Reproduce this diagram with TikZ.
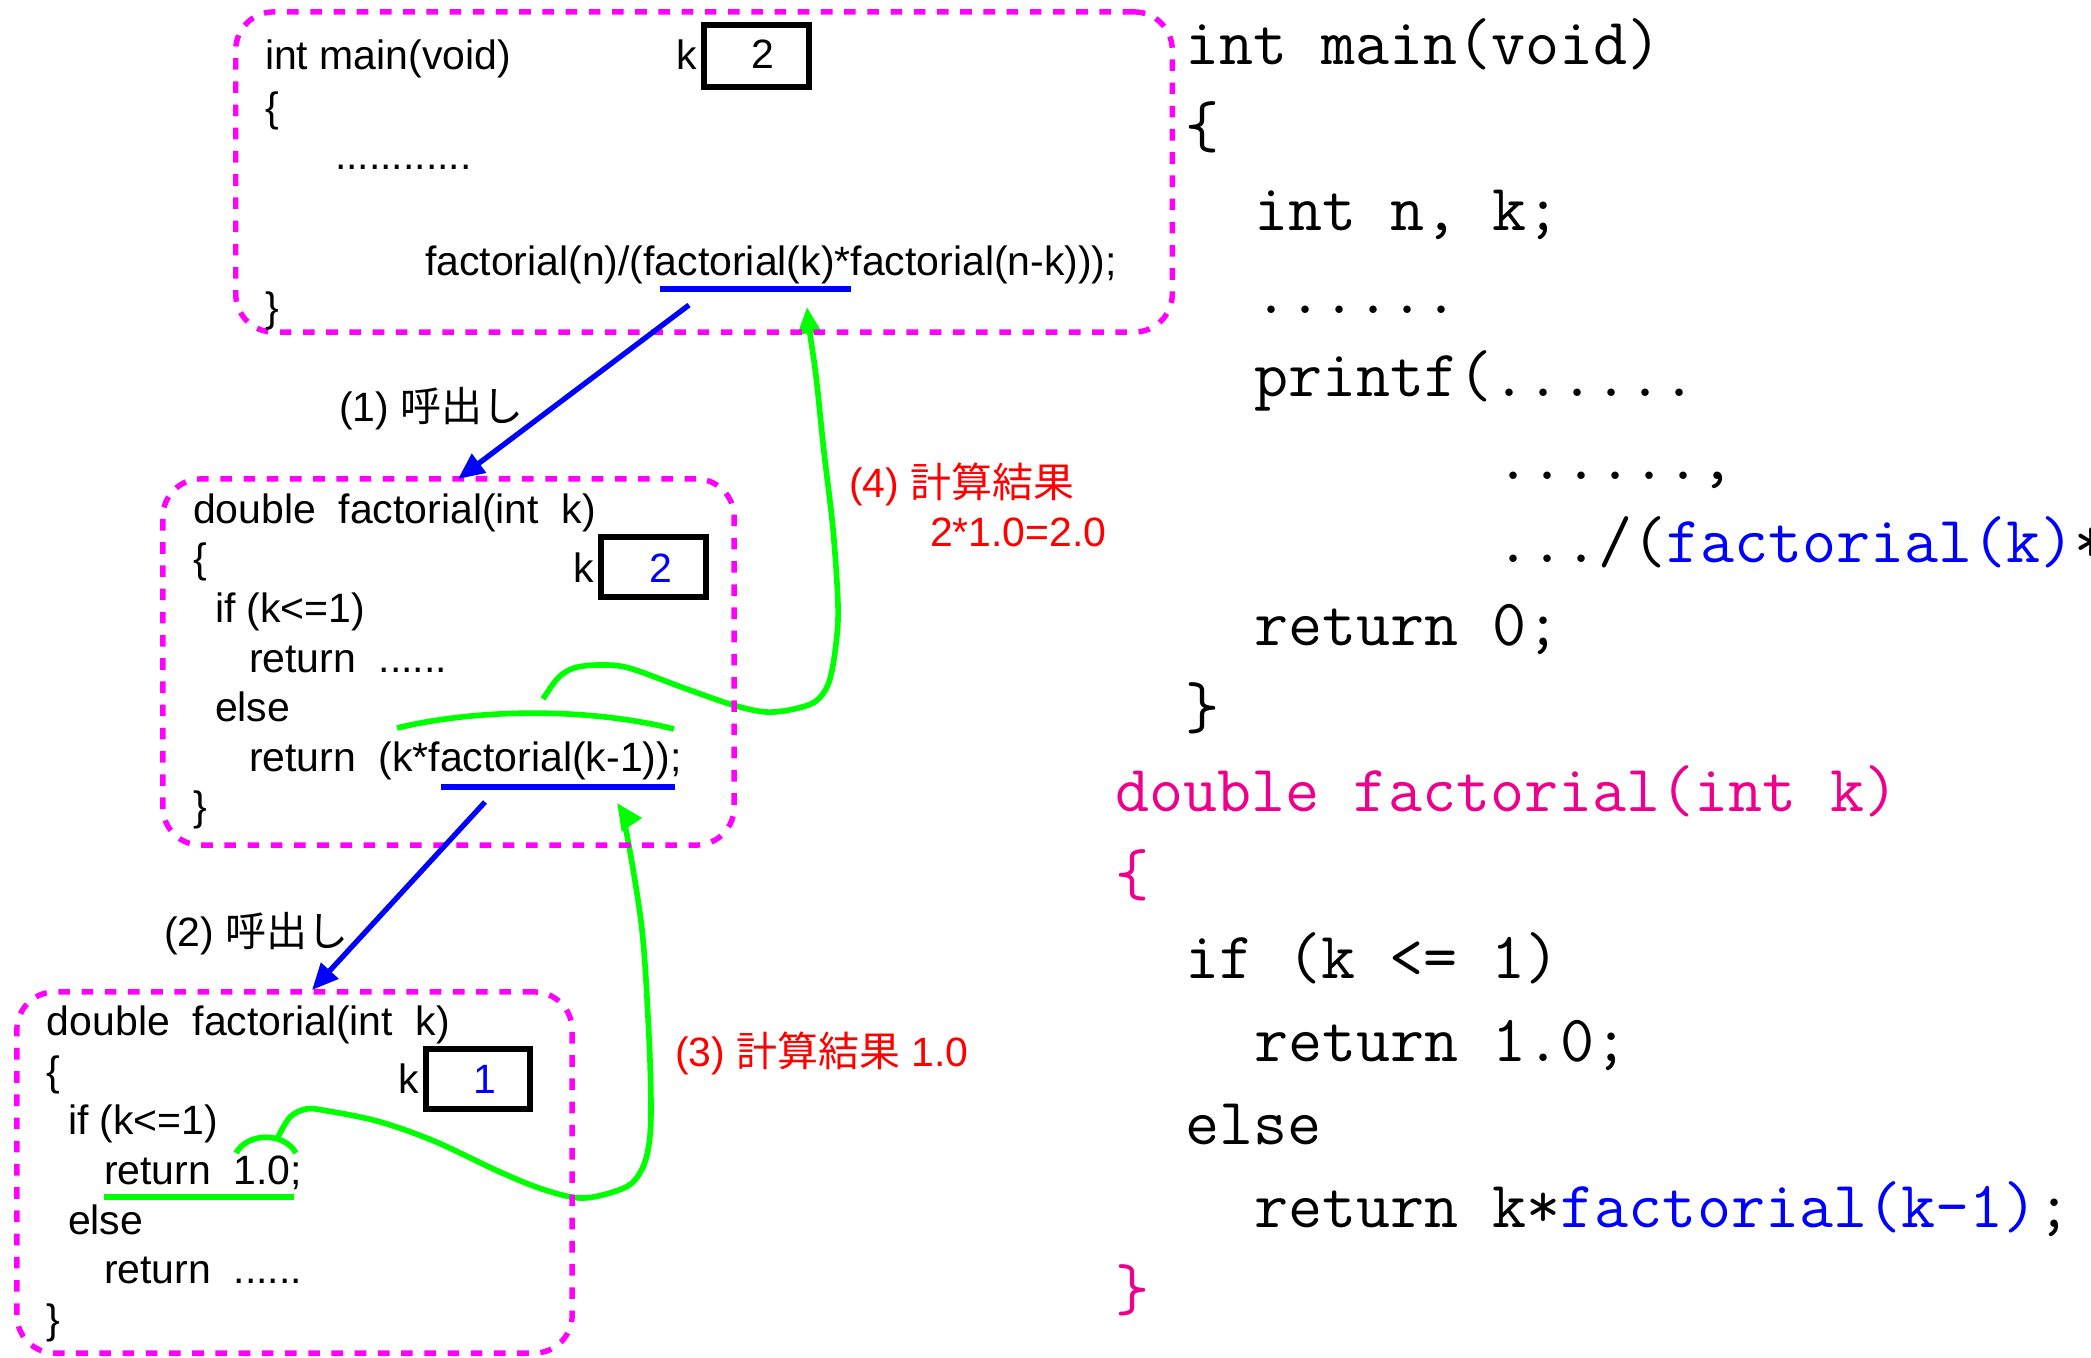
\documentclass[tikz,border=0pt]{standalone}
\usepackage{fontspec}
\setmainfont{Liberation Sans}
\setmonofont{Latin Modern Mono}
\newfontfamily\jpfont{Noto Sans CJK JP}
\usetikzlibrary{arrows.meta}

\definecolor{framepink}{RGB}{255,0,255}
\definecolor{codepink}{RGB}{236,0,140}
\definecolor{callblue}{RGB}{0,0,255}
\definecolor{retgreen}{RGB}{0,255,0}
\definecolor{labelred}{RGB}{255,0,0}

\newcommand{\jp}[1]{{\jpfont #1}}

\begin{document}
\begin{tikzpicture}[x=0.01cm, y=-0.01cm,
  callframe/.style={draw=framepink, line width=1.55pt, dash pattern=on 3.3pt off 3.3pt,
    rounded corners=0.38cm, inner sep=0pt, outer sep=0pt},
  src/.style={inner sep=0pt, outer sep=0pt, anchor=base west,
    font=\fontsize{11.65}{14}\selectfont},
  val/.style={inner sep=0pt, outer sep=0pt, anchor=base,
    font=\fontsize{11.65}{14}\selectfont},
  code/.style={inner sep=0pt, outer sep=0pt, anchor=base west,
    font=\fontsize{18.8}{22}\selectfont\ttfamily},
  varbox/.style={draw=black, line width=1.5pt},
  ulblue/.style={draw=callblue, line width=1.6pt},
  ulgreen/.style={draw=retgreen, line width=1.6pt},
  callarrow/.style={draw=callblue, line width=1.5pt,
    -{Triangle[length=7.5pt,width=6.5pt]}},
  retcurve/.style={draw=retgreen, line width=1.6pt},
  retarrow/.style={draw=retgreen, line width=1.6pt,
    -{Triangle[length=7.5pt,width=6.5pt]}},
  note/.style={inner sep=0pt, outer sep=0pt, anchor=base west,
    font=\fontsize{11.65}{14}\selectfont},
]
\path[use as bounding box, clip] (0,0) rectangle (2091,1357);
\fill[white] (0,0) rectangle (2091,1357);

% ---------- returned values (drawn under the frames) ----------
\coordinate (capFaA) at (397,728); \coordinate (capFaB) at (674,729);
\draw[retcurve] (capFaA) .. controls (480,708) and (590,708) .. (capFaB);
\coordinate (capFbA) at (236,1153); \coordinate (capFbB) at (296,1153);
\draw[retcurve] (capFbA) .. controls (248,1132) and (284,1132) .. (capFbB);

\draw[retarrow] plot[smooth, tension=0.55] coordinates {
  (277,1139) (290,1117) (306,1109) (322,1110) (377,1121) (434,1141)
  (500,1172) (545,1190) (584,1198) (626,1187) (642,1169) (649,1144)
  (651,1109) (649,1037) (642,930) (626,830) (617,803)};
\draw[retarrow] plot[smooth, tension=0.55] coordinates {
  (543,699) (558,678) (574,668) (599,665) (629,668) (684,688)
  (733,705) (766,712) (794,709) (816,701) (829,682) (836,644)
  (838,605) (833,529) (824,452) (816,376) (810,334) (807,307)};

% ---------- call frames ----------
\node[callframe, minimum width=9.36cm, minimum height=3.2cm]  (frameMain) at (704,172) {};
\node[callframe, minimum width=5.71cm, minimum height=3.66cm] (frameFa)   at (448.5,662) {};
\node[callframe, minimum width=5.55cm, minimum height=3.61cm] (frameFb)   at (294.5,1172.5) {};

% ---------- main() frame ----------
\node[src] (m0) at (265,69)  {int main(void)};
\node[src] (m1) at (265,121) {\{};
\node[src] (m2) at (335,169) {............};
\node[src] (m3) at (425,275) {factorial(n)/(factorial(k)*factorial(n-k)));};
\node[src] (m4) at (265,321) {\}};
\node[src] (mk) at (676,69)  {k};
\draw[varbox] (704,25) rectangle (809,87);
\node[val] (mv) at (763,68) {2};

% ---------- factorial(2) frame ----------
\node[src] (a0) at (193,523) {double\ \ factorial(int\ \ k)};
\node[src] (a1) at (193,572) {\{};
\node[src] (a2) at (215,622) {if (k<=1)};
\node[src] (a3) at (249,672) {return\ \ ......};
\node[src] (a4) at (215,721) {else};
\node[src] (a5) at (249,771) {return\ \ (k*factorial(k-1));};
\node[src] (a6) at (193,820) {\}};
\node[src] (ak) at (573,582) {k};
\draw[varbox] (601,537) rectangle (706,597);
\node[val, text=callblue] (av) at (661,582) {2};

% ---------- factorial(1) frame ----------
\node[src] (b0) at (47,1035)  {double\ \ factorial(int\ \ k)};
\node[src] (b1) at (47,1085)  {\{};
\node[src] (b2) at (68,1134)  {if (k<=1)};
\node[src] (b3) at (104,1184) {return\ \ 1.0;};
\node[src] (b4) at (68,1234)  {else};
\node[src] (b5) at (104,1283) {return\ \ ......};
\node[src] (b6) at (47,1333)  {\}};
\node[src] (bk) at (398,1093) {k};
\draw[varbox] (426,1049) rectangle (530,1109);
\node[val, text=callblue] (bv) at (485,1093) {1};

% ---------- markers on the source lines ----------
\coordinate (ulMainA) at (660,289);  \coordinate (ulMainB) at (851,289);
\coordinate (ulFaA)   at (441,787);  \coordinate (ulFaB)   at (675,787);
\coordinate (ulFbA)   at (104,1197); \coordinate (ulFbB)   at (294,1197);
\draw[ulblue]  (ulMainA) -- (ulMainB);
\draw[ulblue]  (ulFaA) -- (ulFaB);
\draw[ulgreen] (ulFbA) -- (ulFbB);

% ---------- calls ----------
\coordinate (call1from) at (689,305);  \coordinate (call1to) at (458,479);
\coordinate (call2from) at (485,802);  \coordinate (call2to) at (312,990);
\draw[callarrow] (call1from) -- (call1to);
\draw[callarrow] (call2from) -- (call2to);
\node[note] (lbl1) at (339,421) {(1) \jp{呼出し}};
\node[note] (lbl2) at (164,946) {(2) \jp{呼出し}};

% ---------- labels of the returns ----------
\node[note, text=labelred] (lbl3) at (675,1066) {(3) \jp{計算結果} 1.0};
\node[note, text=labelred] (lbl4) at (849,497)  {(4) \jp{計算結果}};
\node[note, text=labelred] (lbl4v) at (930,546) {2*1.0=2.0};

% ---------- program listing ----------
\node[code] (c0)  at (1185,64)      {int main(void)};
\node[code] (c1)  at (1185,147.1)   {\{};
\node[code] (c2)  at (1254.4,230.2) {int n, k;};
\node[code] (c3)  at (1254.4,313.3) {......};
\node[code] (c4)  at (1254.4,396.4) {printf(......};
\node[code] (c5)  at (1496,479.5)   {......,};
\node[code] (c6)  at (1496,562.6)   {.../(\textcolor{callblue}{factorial(k)}*};
\node[code] (c7)  at (1254.4,645.7) {return 0;};
\node[code] (c8)  at (1185,728.8)   {\}};
\node[code, text=codepink] (c9)  at (1115.6,811.9) {double factorial(int k)};
\node[code, text=codepink] (c10) at (1115.6,895)   {\{};
\node[code] (c11) at (1185,978.1)    {if (k <= 1)};
\node[code] (c12) at (1254.4,1061.2) {return 1.0;};
\node[code] (c13) at (1185,1144.3)   {else};
\node[code] (c14) at (1254.4,1227.4) {return k*\textcolor{callblue}{factorial(k-1)};};
\node[code, text=codepink] (c15) at (1115.6,1310.5) {\}};
\end{tikzpicture}
\end{document}
